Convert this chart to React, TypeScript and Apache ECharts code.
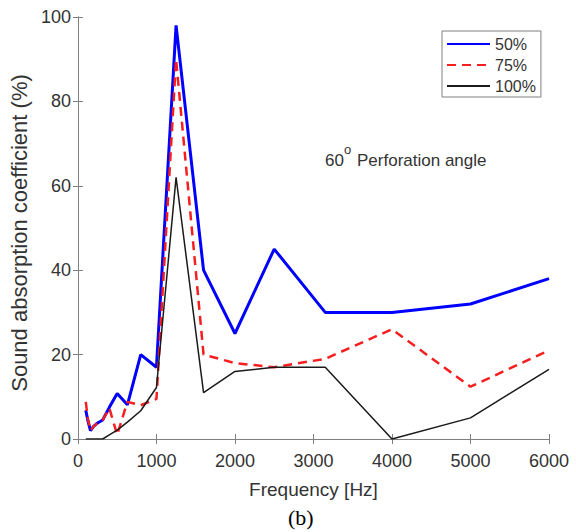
import React, { useEffect, useRef } from "react";
import * as echarts from "echarts";

const frequencies = [100, 125, 160, 200, 250, 315, 400, 500, 630, 800, 1000, 1250, 1600, 2000, 2500, 3150, 4000, 5000, 6000];
const perf50 = [6.8, 4.5, 2, 3, 3.8, 4.5, 7.5, 10.8, 8.1, 20, 17, 98, 40, 25, 45, 30, 30, 32, 38];
const perf75 = [8.8, 5, 2, 3, 3.8, 4.5, 7.3, 1, 8.8, 8, 9.5, 90, 20, 18, 17, 19, 26, 12.4, 21];
const perf100 = [0, 0, 0, 0, 0, 0, 1, 2.1, 4, 6.7, 12.2, 62, 11, 16, 17, 17, 0, 5, 16.5];
const seriesNames = ["50%", "75%", "100%"];
const xTicks = { min: 0, max: 6000, interval: 1000 };
const yTicks = { min: 0, max: 100, interval: 20 };

const FONT = "'Liberation Sans', Arial, Helvetica, sans-serif";
const AXIS_COLOR = "#7f7f7f";
const TEXT_COLOR = "#333333";

export default function App() {
  const ref = useRef<HTMLDivElement>(null);
  useEffect(() => {
    document.body.style.margin = "0";
    const chart = echarts.init(ref.current as HTMLDivElement, null, { renderer: "svg" });
    const axisLine = { show: true, lineStyle: { color: AXIS_COLOR, width: 1 } };
    const axisTick = { show: true, inside: true, length: 5, lineStyle: { color: AXIS_COLOR, width: 1 } };
    const mk = (vals: number[]) => frequencies.map((f, i) => [f, vals[i]]);
    chart.setOption({
      animation: false,
      backgroundColor: "#ffffff",
      textStyle: { fontFamily: FONT },
      grid: { left: 75, right: 27, top: 17, bottom: 93, containLabel: false },
      legend: {
        orient: "vertical",
        left: 442,
        top: 31,
        padding: [5, 5, 3, 4],
        itemGap: 5,
        itemWidth: 43,
        itemHeight: 18,
        borderColor: AXIS_COLOR,
        borderWidth: 1,
        backgroundColor: "#ffffff",
        itemStyle: { opacity: 0 },
        textStyle: { fontSize: 16, color: TEXT_COLOR, fontFamily: FONT },
        data: seriesNames,
      },
      xAxis: [
        {
          type: "value",
          position: "bottom",
          ...xTicks,
          axisLine,
          axisTick,
          splitLine: { show: false },
          axisLabel: { fontSize: 18, color: TEXT_COLOR, margin: 13, fontFamily: FONT, formatter: (v: number) => String(v) },
          name: "Frequency [Hz]",
          nameLocation: "middle",
          nameGap: 41,
          nameTextStyle: { fontSize: 19, color: TEXT_COLOR, fontFamily: FONT },
        },
        {
          type: "value",
          position: "top",
          ...xTicks,
          axisLine,
          axisTick,
          splitLine: { show: false },
          axisLabel: { show: false },
        },
      ],
      yAxis: [
        {
          type: "value",
          position: "left",
          ...yTicks,
          axisLine,
          axisTick,
          splitLine: { show: false },
          axisLabel: { fontSize: 18, color: TEXT_COLOR, margin: 7, fontFamily: FONT, formatter: (v: number) => String(v) },
          name: "Sound absorption coefficient (%)",
          nameLocation: "middle",
          nameGap: 34,
          nameTextStyle: { fontSize: 22, color: TEXT_COLOR, fontFamily: FONT, padding: [0, 10, 0, 0] },
        },
        {
          type: "value",
          position: "right",
          ...yTicks,
          axisLine,
          axisTick,
          splitLine: { show: false },
          axisLabel: { show: false },
        },
      ],
      series: [
        {
          name: seriesNames[0],
          type: "line",
          data: mk(perf50),
          symbol: "none",
          lineStyle: { color: "#0000ff", width: 3 },
          itemStyle: { color: "#0000ff" },
          z: 2,
        },
        {
          name: seriesNames[1],
          type: "line",
          data: mk(perf75),
          symbol: "none",
          lineStyle: { color: "#f51f1f", width: 2.5, type: [9, 6] },
          itemStyle: { color: "#f51f1f" },
          z: 3,
        },
        {
          name: seriesNames[2],
          type: "line",
          data: mk(perf100),
          symbol: "none",
          lineStyle: { color: "#1a1a1a", width: 1.5 },
          itemStyle: { color: "#1a1a1a" },
          z: 4,
        },
      ],
      graphic: [
        {
          type: "text",
          left: 325,
          top: 152,
          style: { text: "60", fontSize: 17, fill: TEXT_COLOR, fontFamily: FONT },
        },
        {
          type: "text",
          left: 344,
          top: 143,
          style: { text: "o", fontSize: 13, fill: TEXT_COLOR, fontFamily: FONT },
        },
        {
          type: "text",
          left: 357,
          top: 152,
          style: { text: "Perforation angle", fontSize: 17, fill: TEXT_COLOR, fontFamily: FONT },
        },
        {
          type: "text",
          left: 288,
          top: 506,
          style: { text: "(b)", fontSize: 22, fill: "#000000", fontFamily: "'Liberation Serif', 'Times New Roman', serif" },
        },
      ],
    });
    return () => chart.dispose();
  }, []);
  return <div ref={ref} style={{ width: 576, height: 532, position: "absolute", left: 0, top: 0, background: "#fff" }} />;
}
